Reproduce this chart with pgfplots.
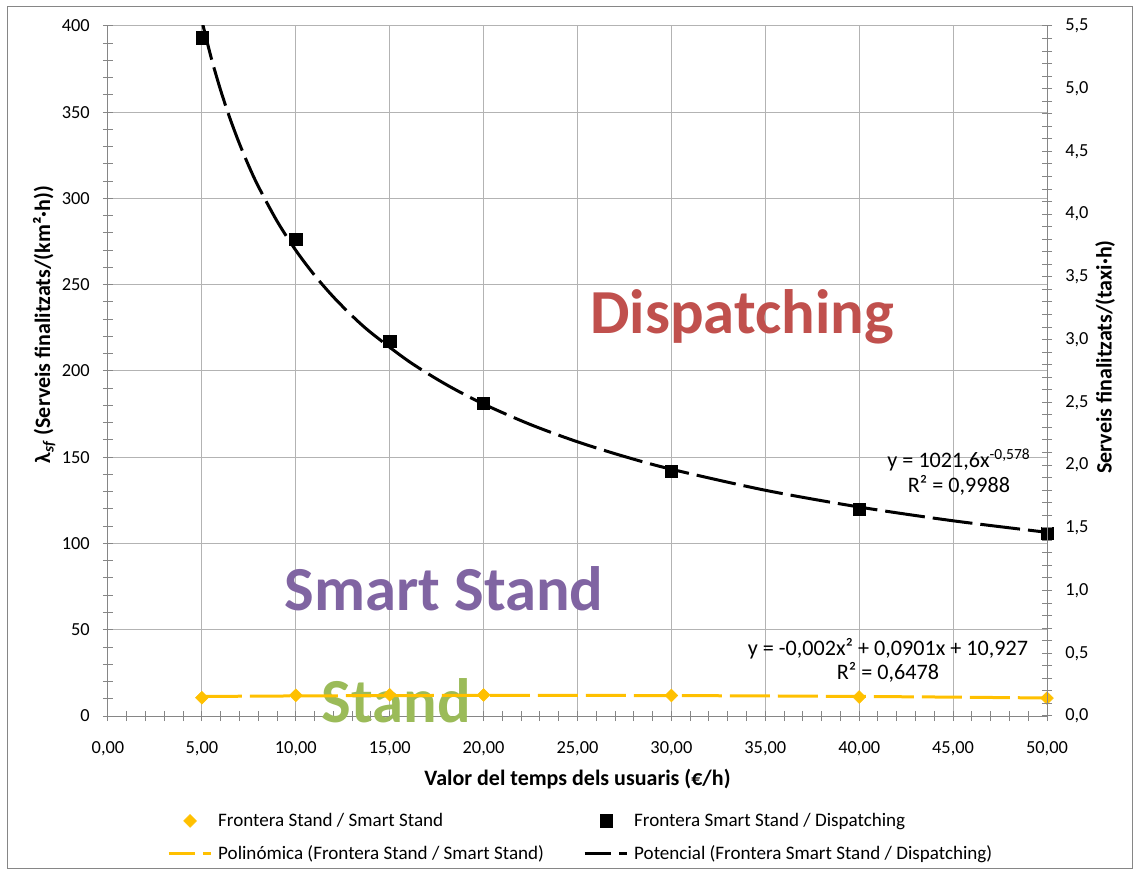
\documentclass[border=0pt]{standalone}
\usepackage{fontspec}
\setmainfont{Carlito}
\usepackage{pgfplots}
\pgfplotsset{compat=1.18}
\definecolor{gridc}{HTML}{B3B3B3}
\definecolor{axc}{HTML}{868686}
\definecolor{ylw}{HTML}{FFC000}
\definecolor{dispc}{HTML}{C0504D}
\definecolor{smartc}{HTML}{8064A2}
\definecolor{standc}{HTML}{9BBB59}
\newcommand{\tickfont}{\fontsize{13.8}{16}\selectfont}
\newcommand{\labfont}{\fontsize{16.5}{19}\selectfont\bfseries}
\newcommand{\eqfont}{\fontsize{16.6}{19}\selectfont}
\newcommand{\bigfont}{\fontsize{47}{54}\selectfont\bfseries}
\begin{document}
\begin{tikzpicture}[x=1pt,y=1pt]
\useasboundingbox (-81,-115.5) rectangle (769.5,537);
\draw[axc, line width=0.75pt] (-75,531.75) rectangle (768.4,-114.4);
\begin{axis}[
  at={(0,0)}, anchor=south west,
  scale only axis, width=704.25pt, height=517.5pt,
  xmin=0, xmax=50, ymin=0, ymax=400,
  axis x line*=bottom, axis y line*=left,
  xtick={0,5,...,50}, ytick={0,50,...,400},
  minor x tick num=4, minor y tick num=4,
  grid=major, major grid style={gridc, line width=0.75pt},
  axis line style={axc, line width=0.75pt, -},
  tick style={axc, line width=0.75pt},
  tick align=center, major tick length=7.5pt, minor tick length=7.5pt,
  /pgf/number format/assume math mode=true,
  ticklabel style={font=\tickfont, inner sep=0pt},
  xticklabel style={anchor=base, yshift=-24pt, /pgf/number format/fixed, /pgf/number format/fixed zerofill, /pgf/number format/precision=2, /pgf/number format/use comma},
  yticklabel style={anchor=east, xshift=-9.75pt},
  xlabel={Valor del temps dels usuaris (€/h)},
  xlabel style={font=\labfont, at={(axis description cs:0.5,-0.1014)}, anchor=base},
  ylabel={λ\textsubscript{\textit{sf}} (Serveis finalitzats/(km²·h))},
  ylabel style={font=\labfont, at={(axis description cs:-0.068,0.567)}, anchor=center},
  clip mode=individual,
  legend columns=2,
  legend cell align=left,
  legend style={at={(axis description cs:0.0628,-0.1406)}, anchor=north west, draw=none, fill=none, inner sep=0pt, font=\fontsize{14.3}{17}\selectfont, nodes={inner sep=0pt}, row sep=13pt, /tikz/every odd column/.append style={column sep=4pt}},
  legend image code/.code={\draw[mark repeat=2,mark phase=2,#1] plot coordinates {(0pt,0pt) (16pt,0pt) (32pt,0pt)};},
]
\node[font=\bigfont, text=dispc, anchor=base, inner sep=0pt] at (axis cs:33.76,221.8) {Dispatching};
\node[font=\bigfont, text=smartc, anchor=base, inner sep=0pt] at (axis cs:17.89,61.0) {Smart Stand};
\node[font=\bigfont, text=standc, anchor=base, inner sep=0pt] at (axis cs:15.34,-3.8) {Stand};
\node[font=\eqfont, anchor=base, inner sep=0pt] at (axis cs:45.31,143.8) {y = 1021,6x\textsuperscript{-0,578}};
\node[font=\eqfont, anchor=base, inner sep=0pt] at (axis cs:45.31,129.3) {R² = 0,9988};
\node[font=\eqfont, anchor=base, inner sep=0pt] at (axis cs:41.53,35.36) {y = -0,002x² + 0,0901x + 10,927};
\node[font=\eqfont, anchor=base, inner sep=0pt] at (axis cs:41.53,20.87) {R² = 0,6478};

\addplot[only marks, mark=square*, mark size=3.4pt, mark options={rotate=45, fill=ylw, draw=ylw}]
  coordinates {(5,10.6) (10,12.0) (15,12.3) (20,12.2) (30,11.9) (40,11.0) (50,10.4)};
\addlegendentry{\makebox[273.75pt][l]{Frontera Stand / Smart Stand}}
\addplot[only marks, mark=square*, mark size=4.6pt, mark options={fill=black, draw=black}]
  coordinates {(5,393.2) (10,276.3) (15,217.4) (20,181.4) (30,142.0) (40,120.0) (50,105.9)};
\addlegendentry{Frontera Smart Stand / Dispatching}
\addplot[ylw, line width=2.25pt, dash pattern=on 30pt off 6pt, smooth, no marks,
  legend image code/.code={\draw[ylw, line width=2.25pt, dash pattern=on 20pt off 6pt] (0pt,0pt) -- (32pt,0pt);}]
  coordinates {(5,11.33) (10,11.63) (15,11.83) (20,11.93) (25,11.93) (30,11.83) (35,11.63) (40,11.33) (45,10.93) (50,10.43)};
\addlegendentry{\makebox[273.75pt][l]{Polinómica (Frontera Stand / Smart Stand)}}
\addplot[black, line width=2.25pt, dash pattern=on 30pt off 6pt, smooth, no marks,
  legend image code/.code={\draw[black, line width=2.25pt, dash pattern=on 20pt off 6pt] (0pt,0pt) -- (32pt,0pt);}]
  coordinates {(5,402.97) (5.5,381.37) (6,362.67) (6.5,346.27) (7,331.75) (7.5,318.78) (8,307.11) (9,286.90) (10,269.95) (11,255.48) (12,242.95) (13,231.96) (14,222.24) (16,205.73) (18,192.19) (20,180.84) (22.5,168.94) (25,158.95) (27.5,150.43) (30,143.05) (35,130.86) (40,121.14) (45,113.16) (50,106.48)};
\addlegendentry{Potencial (Frontera Smart Stand / Dispatching)}
\end{axis}
\begin{axis}[
  at={(0,0)}, anchor=south west,
  scale only axis, width=704.25pt, height=517.5pt,
  xmin=0, xmax=50, ymin=0, ymax=5.5,
  axis x line=none, axis y line*=right,
  ytick={0,0.5,1,1.5,2,2.5,3,3.5,4,4.5,5,5.5}, minor y tick num=4,
  axis line style={axc, line width=0.75pt, -},
  tick style={axc, line width=0.75pt},
  tick align=center, major tick length=7.5pt, minor tick length=7.5pt,
  /pgf/number format/assume math mode=true,
  yticklabel style={font=\tickfont, inner sep=0pt, anchor=west, xshift=9.75pt, /pgf/number format/fixed, /pgf/number format/fixed zerofill, /pgf/number format/precision=1, /pgf/number format/use comma},
  ylabel={Serveis finalitzats/(taxi·h)},
  ylabel style={font=\labfont, at={(axis description cs:1.0618,0.5203)}, anchor=center},
]
\end{axis}
\end{tikzpicture}
\end{document}
